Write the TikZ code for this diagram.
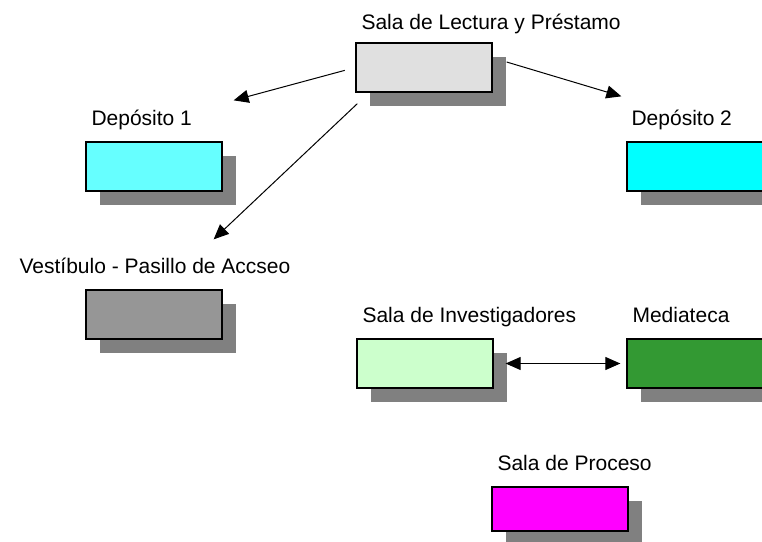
\documentclass[tikz,border=0pt]{standalone}
\usepackage{fontspec}
\setmainfont{Liberation Sans}
\usetikzlibrary{arrows.meta, calc, shadows}
\definecolor{shade}{RGB}{128,128,128}
\definecolor{lightgrey}{RGB}{224,224,224}
\definecolor{paleaqua}{RGB}{102,255,255}
\definecolor{aqua}{RGB}{0,255,255}
\definecolor{midgrey}{RGB}{150,150,150}
\definecolor{palegreen}{RGB}{204,255,204}
\definecolor{darkgreen}{RGB}{51,153,51}
\definecolor{pink}{RGB}{255,0,255}

\begin{document}
\begin{tikzpicture}[
  x=1pt, y=-1pt,
  font=\fontsize{21}{25}\selectfont,
  r/.style={draw, line width=1.3pt, minimum width=136pt, minimum height=49pt,
            inner sep=0pt, fill=#1,
            drop shadow={shadow xshift=13.5pt, shadow yshift=-13.5pt,
                         fill=shade, opacity=1}},
  l/.style={anchor=base west, inner sep=0pt},
  a/.style={-{Triangle[length=15pt, width=13pt]}, line width=1pt}
]
\useasboundingbox (0,0) rectangle (762,541);

% ---- rooms ----
\node[r=lightgrey] (lectura) at (424,67.5) {};
\node[r=paleaqua] (dep1) at (154,166.5) {};
\node[r=aqua] (dep2) at (695,166.5) {};
\node[r=midgrey] (vest) at (154,314.5) {};
\node[r=palegreen] (invest) at (425,363.5) {};
\node[r=darkgreen] (media) at (695,363.5) {};
\node[r=pink, minimum height=44pt] (proceso) at (560,509) {};

% ---- labels ----
\node[l] (lecturaL) at ($(lectura.north west)+(6,-13)$) {Sala de Lectura y Préstamo};
\node[l] (dep1L) at ($(dep1.north west)+(6,-16)$) {Depósito 1};
\node[l] (dep2L) at ($(dep2.north west)+(5,-16)$) {Depósito 2};
\node[l] (vestL) at ($(vest.north west)+(-66,-16)$) {Vestíbulo - Pasillo de Accseo};
\node[l] (investL) at ($(invest.north west)+(6,-16)$) {Sala de Investigadores};
\node[l] (mediaL) at ($(media.north west)+(6,-16)$) {Mediateca};
\node[l] (procesoL) at ($(proceso.north west)+(6,-16)$) {Sala de Proceso};

% ---- connectors ----
\draw[a, shorten <=11pt] (lectura.west) -- ($(dep1.north east)+(11,-41)$);
\draw[a] ($(lectura.east)+(14,-5.5)$) -- ($(dep2.north west)+(-5,-45)$);
\draw[a] ($(lectura.south west)+(2,11)$) -- ($(vest.north east)+(-9,-50)$);
\draw[a, {Triangle[length=15pt, width=13pt]}-{Triangle[length=15pt, width=13pt]},
      shorten <=12pt, shorten >=6pt] (invest.east) -- (media.west);

\end{tikzpicture}
\end{document}
